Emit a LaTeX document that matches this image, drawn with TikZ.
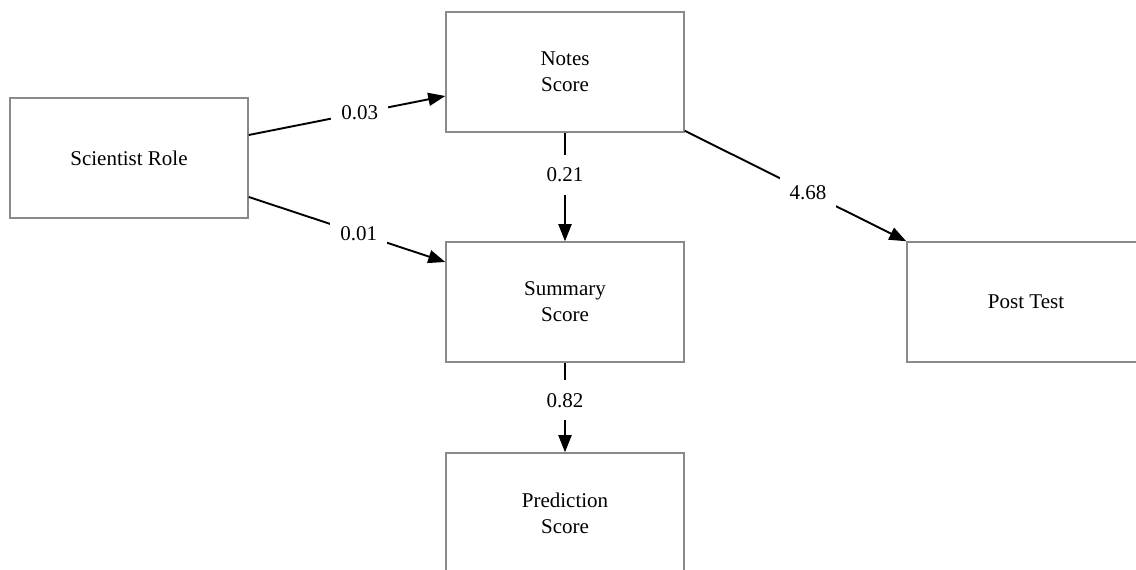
\documentclass[tikz,border=0pt]{standalone}
\usepackage{fontspec}
\setmainfont{Liberation Serif}
\usetikzlibrary{arrows.meta}
\definecolor{boxgray}{HTML}{8A8A8A}
\begin{document}
\begin{tikzpicture}[x=1pt,y=1pt,
  box/.style={draw=boxgray,line width=1.5pt,fill=white,minimum width=238pt,minimum height=120pt,
    align=center,inner sep=0pt,font=\fontsize{21}{26}\selectfont},
  conn/.style={line width=1.9pt,-{Triangle[length=17pt,width=13pt]}},
  lbl/.style={fill=white,inner xsep=10pt,inner ysep=13pt,font=\fontsize{21}{26}\selectfont}]
\useasboundingbox (0,0) rectangle (1136,570);
\node[box] (sci) at (129,412) {Scientist Role};
\node[box] (notes) at (565,498) {Notes\\Score};
\node[box] (summ) at (565,268) {Summary\\Score};
\node[box] (pred) at (565,57) {Prediction\\Score};
\node[box] (post) at (1026,268) {Post Test};
\draw[conn] ([yshift=23pt]sci.east) -- node[lbl,pos=0.565] {0.03} ([yshift=-24pt]notes.west);
\draw[conn] ([yshift=-39pt]sci.east) -- node[lbl,pos=0.56] {0.01} ([yshift=40pt]summ.west);
\draw[conn] (notes.south) -- node[lbl,pos=0.39] {0.21} (summ.north);
\draw[conn] (summ.south) -- node[lbl,pos=0.42] {0.82} (pred.north);
\draw[conn] ([yshift=2pt]notes.south east) -- node[lbl,pos=0.556] {4.68} (post.north west);
\end{tikzpicture}
\end{document}
